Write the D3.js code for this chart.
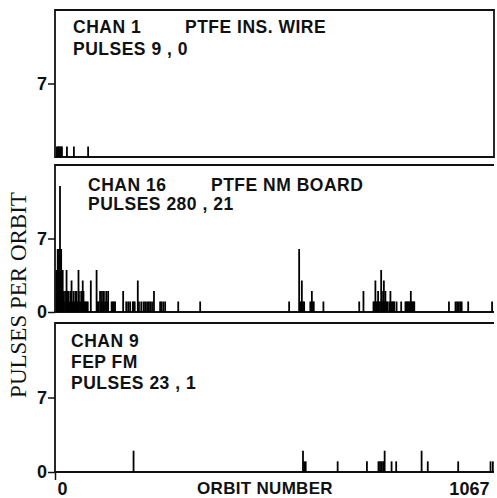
<!DOCTYPE html>
<html>
<head>
<meta charset="utf-8">
<style>
  body { margin: 0; background: #fff; }
  .lbl { font-family: 'Liberation Sans', Arial, sans-serif; font-weight: bold; font-size: 17.5px; fill: #111; }
  .tick text { font-family: 'Liberation Sans', Arial, sans-serif; font-weight: bold; font-size: 18px; fill: #111; }
</style>
</head>
<body>
<svg id="svg"></svg>
<script src="https://d3js.org/d3.v7.min.js"></script>
<script>

// orbit number / pulses per orbit for each channel
const chan1Orbits = [5, 8, 10, 13, 16, 18, 31, 49, 86];
const chan1Pulses = [1, 1, 1, 1, 1, 1, 1, 1, 1];

const chan16Orbits = [4, 5, 7, 8, 9, 10, 12, 13, 14, 16, 17, 18, 20, 21,
  23, 26, 29, 30, 33, 35, 38, 40, 43, 46, 48, 51, 53, 56, 59, 61, 62, 65, 68, 70, 72, 74, 77, 79, 82, 85,
  93, 108, 111, 113, 117, 120, 122, 125, 127, 130, 133, 135, 138, 147, 150, 153, 156, 177, 185, 190, 195,
  202, 204, 207, 215, 218, 224, 230, 234, 239, 243, 247, 252, 257, 273, 276, 281, 286, 320, 377,
  608, 634, 637, 641, 644, 647, 663, 667, 670, 672, 697, 790, 801,
  827, 829, 832, 835, 837, 839, 841, 844, 847, 849, 852, 854, 855, 858, 861, 863, 868, 871, 874, 876, 879, 881, 887,
  899, 910, 913, 915, 918, 920, 924, 926, 928, 931, 933, 1023, 1040, 1044, 1048, 1052, 1056, 1073, 1135];
const chan16Pulses = [4, 4, 6, 5, 6, 4, 6, 12, 5, 6, 3, 2, 4, 2,
  1, 2, 1, 4, 2, 2, 1, 2, 3, 1, 2, 1, 2, 2, 1, 4, 2, 1, 2, 2, 3, 2, 1, 1, 1, 1,
  3, 4, 1, 1, 2, 1, 2, 1, 2, 1, 2, 1, 2, 1, 1, 1, 1, 2, 1, 1, 1,
  1, 1, 1, 3, 1, 1, 1, 1, 1, 1, 1, 1, 2, 1, 1, 1, 1, 1, 1,
  1, 6, 1, 3, 1, 1, 1, 2, 1, 1, 1, 1, 2,
  1, 1, 3, 1, 1, 2, 1, 1, 4, 1, 2, 3, 1, 2, 1, 1, 1, 2, 1, 1, 1, 1, 1,
  1, 1, 1, 1, 1, 1, 2, 1, 1, 1, 1, 1, 1, 1, 1, 1, 1, 1, 1];

const chan9Orbits = [204, 644, 647, 651, 734, 810, 840, 844, 848, 852, 856, 874, 886, 952, 968, 1047, 1131, 1137];
const chan9Pulses = [2, 2, 1, 1, 1, 1, 1, 1, 1, 1, 2, 1, 1, 2, 1, 1, 1, 1];

const yTicks = [0, 7];
const xTickLabels = ["0", "1067"];
const yTitle = "PULSES PER ORBIT";
const xTitle = "ORBIT NUMBER";

const width = 497, height = 498;
const svg = d3.select("#svg").attr("width", width).attr("height", height);

const xScale = d3.scaleLinear().domain([0, 1140]).range([55, 494]);

const panels = [
  { orbits: chan1Orbits, pulses: chan1Pulses, top: 10, bottom: 157, ticks: [7], right: true,
    texts: [["CHAN 1", 73, 33], ["PTFE INS. WIRE", 185, 33], ["PULSES 9 , 0", 73, 55]] },
  { orbits: chan16Orbits, pulses: chan16Pulses, top: 165, bottom: 312, ticks: yTicks, right: false,
    texts: [["CHAN 16", 88, 191], ["PTFE NM BOARD", 211, 191], ["PULSES 280 , 21", 88, 210]] },
  { orbits: chan9Orbits, pulses: chan9Pulses, top: 323, bottom: 472, ticks: yTicks, right: false,
    texts: [["CHAN 9", 71, 347], ["FEP FM", 71, 368], ["PULSES 23 , 1", 71, 389]] }
];

panels.forEach(function(p) {
  const yScale = d3.scaleLinear().domain([0, 14]).range([p.bottom, p.top]);
  const g = svg.append("g");
  const x0 = xScale.range()[0], x1 = xScale.range()[1];

  // frame
  g.append("path")
    .attr("fill", "none")
    .attr("stroke", "#111")
    .attr("stroke-width", 1.8)
    .attr("d", p.right
      ? `M${x0},${p.bottom}V${p.top}H${x1}V${p.bottom}Z`
      : `M${x0},${p.bottom}V${p.top}H${x1}M${x0},${p.bottom}H${x1}`);

  const axis = g.append("g")
    .attr("transform", `translate(${x0},0)`)
    .call(d3.axisLeft(yScale).tickValues(p.ticks).tickSize(7).tickPadding(1).tickFormat(d3.format("d")));
  axis.select(".domain").remove();
  axis.selectAll(".tick line").attr("stroke", "#111").attr("stroke-width", 1.5);

  const data = p.orbits.map(function(o, i) { return { orbit: o, pulses: p.pulses[i] }; });
  g.selectAll(".bar")
    .data(data)
    .enter().append("line")
    .attr("x1", function(d) { return xScale(d.orbit); })
    .attr("x2", function(d) { return xScale(d.orbit); })
    .attr("y1", yScale(0))
    .attr("y2", function(d) { return yScale(d.pulses); })
    .attr("stroke", "#000")
    .attr("stroke-width", 1.8);

  g.selectAll(".lbl")
    .data(p.texts)
    .enter().append("text")
    .attr("class", "lbl")
    .attr("x", function(d) { return d[1]; })
    .attr("y", function(d) { return d[2]; })
    .style("letter-spacing", "0.5px")
    .text(function(d) { return d[0]; });
});

// x axis under the bottom panel
const xAxis = svg.append("g")
  .attr("transform", `translate(0,${panels[2].bottom})`)
  .call(d3.axisBottom(xScale).tickValues([0, 1067]).tickSize(8).tickPadding(2)
    .tickFormat(function(d, i) { return xTickLabels[i]; }));
xAxis.select(".domain").remove();
xAxis.selectAll(".tick line").attr("stroke", "#111").attr("stroke-width", 1.5)
  .attr("stroke-opacity", function(d) { return d === 0 ? 1 : 0; });
xAxis.selectAll(".tick text").attr("dx", function(d) { return d === 0 ? 7 : 3; });

svg.append("text")
  .attr("class", "lbl")
  .attr("x", 265)
  .attr("y", 494)
  .attr("text-anchor", "middle")
  .style("font-size", "17px")
  .style("letter-spacing", "0.3px")
  .text(xTitle);

svg.append("text")
  .attr("transform", "translate(26,295) rotate(-90)")
  .attr("text-anchor", "middle")
  .style("font-family", "'Liberation Serif', 'Times New Roman', serif")
  .style("font-size", "23px")
  .style("fill", "#111")
  .text(yTitle);

</script>
</body>
</html>
